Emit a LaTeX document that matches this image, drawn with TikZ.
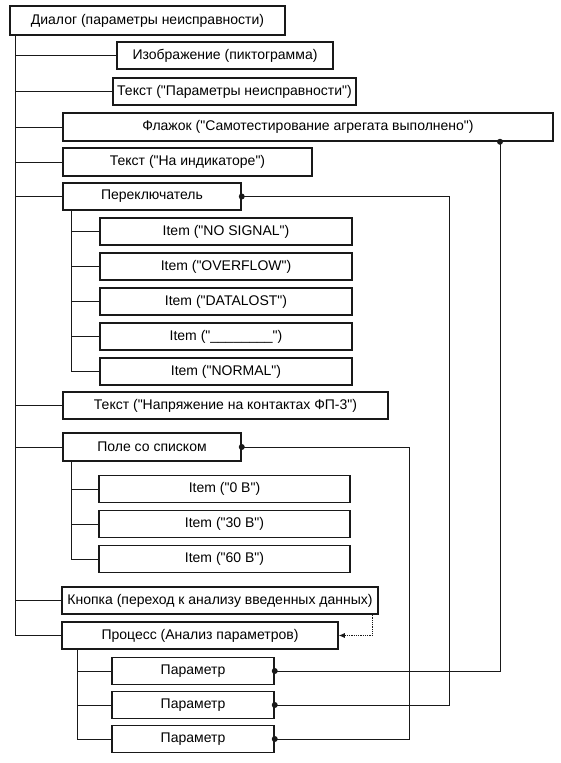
\documentclass[tikz,border=0pt]{standalone}
\usepackage{fontspec}
\setmainfont{Liberation Sans}[Ligatures=TeXOff]
\usetikzlibrary{arrows.meta}
\definecolor{inkblack}{RGB}{25,25,25}
\tikzset{
  block/.style={draw=inkblack, line width=1.5pt, rectangle, minimum height=27pt,
    inner sep=0pt, font=\fontsize{14}{16}\selectfont},
  wire/.style={draw=inkblack, line width=1pt},
  link/.style={draw=inkblack, line width=0.8pt},
  dot/.style={fill=inkblack},
}

\begin{document}
\begin{tikzpicture}[x=1pt,y=-1pt]
\useasboundingbox (0,0) rectangle (561,763);

% Dialog and its children
\node[block, minimum width=275pt, minimum height=29pt] (dialog) at (147.5,20.5) {Диалог (параметры неисправности)};
\node[block, minimum width=216pt] (izobr) at (225,55.5) {Изображение (пиктограмма)};
\node[block, minimum width=243pt] (tekstpar) at (234.5,91.5) {Текст ("Параметры неисправности")};
\node[block, minimum width=490pt, minimum height=28pt] (flag) at (308,127) {Флажок ("Самотестирование агрегата выполнено")};
\node[block, minimum width=249pt, minimum height=28pt] (indik) at (187.5,162) {Текст ("На индикаторе")};
\node[block, minimum width=178pt] (perekl) at (152,196.5) {Переключатель};
\node[block, minimum width=325pt] (fp3) at (225.5,405.5) {Текст ("Напряжение на контактах ФП-3")};
\node[block, minimum width=178pt, minimum height=28pt] (pole) at (152,447) {Поле со списком};
\node[block, minimum width=316pt] (knopka) at (220,600.5) {Кнопка (переход к анализу введенных данных)};
\node[block, minimum width=276pt] (process) at (200,635.5) {Процесс (Анализ параметров)};

% Switch items
\node[block, minimum width=252pt] (sw1) at (226,231.5) {Item ("NO SIGNAL")};
\node[block, minimum width=252pt] (sw2) at (226,266.5) {Item ("OVERFLOW")};
\node[block, minimum width=252pt] (sw3) at (226,301.5) {Item ("DATALOST")};
\node[block, minimum width=252pt] (sw4) at (226,336.5) {Item ("\_\_\_\_\_\_\_\_")};
\node[block, minimum width=252pt] (sw5) at (226,371.5) {Item ("NORMAL")};

% Combo box items
\node[block, minimum width=251pt] (cb1) at (224.5,489) {Item ("0 В")};
\node[block, minimum width=251pt] (cb2) at (224.5,524) {Item ("30 В")};
\node[block, minimum width=251pt] (cb3) at (224.5,559) {Item ("60 В")};

% Process parameters
\node[block, minimum width=162pt] (par1) at (193,671) {Параметр};
\node[block, minimum width=162pt] (par2) at (193,705) {Параметр};
\node[block, minimum width=162pt] (par3) at (193,739) {Параметр};

% Tree lines
\coordinate (trunk) at (15,0);
\coordinate (swtrunk) at (71,0);
\coordinate (cbtrunk) at (71,0);
\coordinate (partrunk) at (77,0);
\draw[wire] (dialog.south -| trunk) |- (process.west);
\draw[wire] (trunk |- izobr.west) -- (izobr.west);
\draw[wire] (trunk |- tekstpar.west) -- (tekstpar.west);
\draw[wire] (trunk |- flag.west) -- (flag.west);
\draw[wire] (trunk |- indik.west) -- (indik.west);
\draw[wire] (trunk |- perekl.west) -- (perekl.west);
\draw[wire] (trunk |- fp3.west) -- (fp3.west);
\draw[wire] (trunk |- pole.west) -- (pole.west);
\draw[wire] (trunk |- knopka.west) -- (knopka.west);

\draw[wire] (perekl.south -| swtrunk) |- (sw5.west);
\draw[wire] (swtrunk |- sw1.west) -- (sw1.west);
\draw[wire] (swtrunk |- sw2.west) -- (sw2.west);
\draw[wire] (swtrunk |- sw3.west) -- (sw3.west);
\draw[wire] (swtrunk |- sw4.west) -- (sw4.west);

\draw[wire] (pole.south -| cbtrunk) |- (cb3.west);
\draw[wire] (cbtrunk |- cb1.west) -- (cb1.west);
\draw[wire] (cbtrunk |- cb2.west) -- (cb2.west);

\draw[wire] (process.south -| partrunk) |- (par3.west);
\draw[wire] (partrunk |- par1.west) -- (par1.west);
\draw[wire] (partrunk |- par2.west) -- (par2.west);

% Data links to parameters
\coordinate (busflag) at (500,0);
\coordinate (busperekl) at (449,0);
\coordinate (buspole) at (409,0);
\draw[link] (flag.south -| busflag) |- (par1.east);
\draw[link] (perekl.east) -| (busperekl |- par2.east) -- (par2.east);
\draw[link] (pole.east) -| (buspole |- par3.east) -- (par3.east);
\fill[dot] (flag.south -| busflag) circle (3pt);
\fill[dot] (perekl.east) circle (3pt);
\fill[dot] (pole.east) circle (3pt);
\fill[dot] (par1.east) circle (3pt);
\fill[dot] (par2.east) circle (3pt);
\fill[dot] (par3.east) circle (3pt);

% Button starts the process
\coordinate (trigger) at (372,0);
\draw[link, densely dotted, -{Latex[length=6pt,width=5pt]}] (knopka.south -| trigger) |- (process.east);

\end{tikzpicture}
\end{document}
